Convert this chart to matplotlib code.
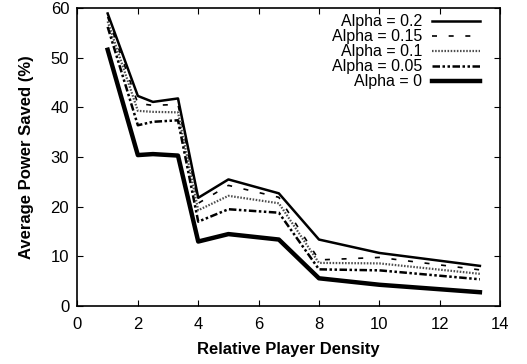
import matplotlib
matplotlib.use("Agg")
import matplotlib.pyplot as plt

plt.rcParams["font.family"] = ["Liberation Sans", "DejaVu Sans"]

# relative player density (x) and average power saved (%) per alpha
density = [1, 2, 2.5, 3.33, 4, 5, 6.67, 8, 10, 13.33]
saved_a020 = [58.9, 42.3, 41.1, 41.8, 21.8, 25.5, 22.7, 13.4, 10.7, 8.1]
saved_a015 = [58.2, 40.8, 40.4, 40.6, 20.7, 24.3, 21.9, 9.3, 9.8, 7.3]
saved_a010 = [57.3, 39.3, 39.1, 39.0, 19.3, 22.2, 20.7, 8.7, 8.6, 6.5]
saved_a005 = [56.2, 36.4, 37.1, 37.4, 17.0, 19.5, 18.8, 7.4, 7.2, 5.4]
saved_a000 = [51.6, 30.4, 30.6, 30.3, 13.0, 14.5, 13.4, 5.6, 4.3, 2.8]

series = [
    ("Alpha = 0.2", saved_a020, dict(lw=1.8, ls="-", color="black")),
    ("Alpha = 0.15", saved_a015, dict(lw=1.2, ls=(0, (3, 7)), color="black")),
    ("Alpha = 0.1", saved_a010, dict(lw=1.6, ls=(0, (0.7, 0.7)), color="0.3")),
    ("Alpha = 0.05", saved_a005, dict(lw=1.8, ls=(0, (3, 1, 1, 1, 1, 1)), color="black")),
    ("Alpha = 0", saved_a000, dict(lw=3.2, ls="-", color="black")),
]

fig = plt.figure(figsize=(5.27, 3.64), dpi=100)
ax = fig.add_axes([0.147, 0.159, 0.802, 0.819])

for label, vals, style in series:
    ax.plot(density, vals, label=label, **style)

ax.set_xlim(0, 14)
ax.set_ylim(0, 60)
ax.set_xticks(range(0, 15, 2))
ax.set_yticks(range(0, 61, 10))
ax.tick_params(direction="in", top=True, right=True, labelsize=12, length=4)
ax.tick_params(axis="x", pad=8)
ax.tick_params(axis="y", pad=6)
for s in ax.spines.values():
    s.set_linewidth(1.2)

ax.set_xlabel("Relative Player Density", fontsize=12, fontweight="bold", labelpad=7)
ax.set_ylabel("Average Power Saved (%)", fontsize=12, fontweight="bold", labelpad=12)

ax.legend(loc="upper right", bbox_to_anchor=(0.967, 1.0), frameon=False,
          markerfirst=False, fontsize=11.5, handlelength=3.0, handletextpad=0.6,
          labelspacing=0.0, borderaxespad=0.1, borderpad=0.3)

fig.savefig("out.png", dpi=100)
